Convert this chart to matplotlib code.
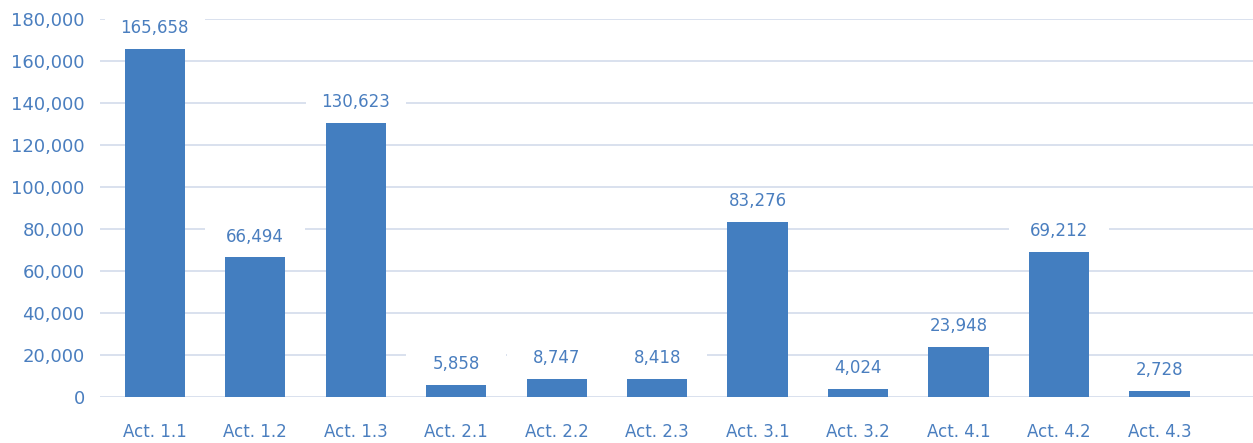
import matplotlib
matplotlib.use("Agg")
import matplotlib.pyplot as plt
from matplotlib.path import Path

categories = ["Act. 1.1", "Act. 1.2", "Act. 1.3", "Act. 2.1", "Act. 2.2", "Act. 2.3",
              "Act. 3.1", "Act. 3.2", "Act. 4.1", "Act. 4.2", "Act. 4.3"]
values = [165658, 66494, 130623, 5858, 8747, 8418, 83276, 4024, 23948, 69212, 2728]
yticks = [0, 20000, 40000, 60000, 80000, 100000, 120000, 140000, 160000, 180000]

BAR = "#437EC0"
TXT = "#4A7EBF"
GRID = "#D0D9EA"

plt.rcParams['font.family'] = ['DejaVu Sans']

fig = plt.figure(figsize=(12.53, 4.43), dpi=100)
ax = fig.add_axes([100/1253, 46/443, 1 - 100/1253, 1 - 46/443 - 19/443])

x = list(range(len(categories)))
ax.bar(x, values, width=0.6, color=BAR, zorder=2)

ax.set_ylim(0, 180000)
ax.set_xlim(-0.545, 10.93)
ax.set_yticks(yticks)
ax.set_yticklabels([f"{v:,}" for v in yticks])
ax.set_xticks(x)
ax.set_xticklabels(categories)
ax.yaxis.grid(True, color=GRID, linewidth=1.1, zorder=0)
ax.set_axisbelow(True)
for s in ax.spines.values():
    s.set_visible(False)
ax.tick_params(axis='both', length=0, colors=TXT)
ax.tick_params(axis='y', labelsize=13, pad=11)
ax.tick_params(axis='x', labelsize=12, pad=19)


def fixed_box(x0, y0, width, height, mutation_size):
    cx = x0 + width / 2
    half = 3.0 * mutation_size
    vpad = 0.12 * mutation_size
    xa, xb = cx - half, cx + half
    ya, yb = y0 - vpad, y0 + height + vpad
    return Path([(xa, ya), (xb, ya), (xb, yb), (xa, yb), (xa, ya)], closed=True)


for xi, v in zip(x, values):
    ax.annotate(f"{v:,}", (xi, v), xytext=(0, 15), textcoords="offset points",
                ha="center", va="center", fontsize=12, color=TXT, zorder=3,
                bbox=dict(boxstyle=fixed_box, facecolor="white", edgecolor="none"))

fig.savefig("out.png", dpi=100)
